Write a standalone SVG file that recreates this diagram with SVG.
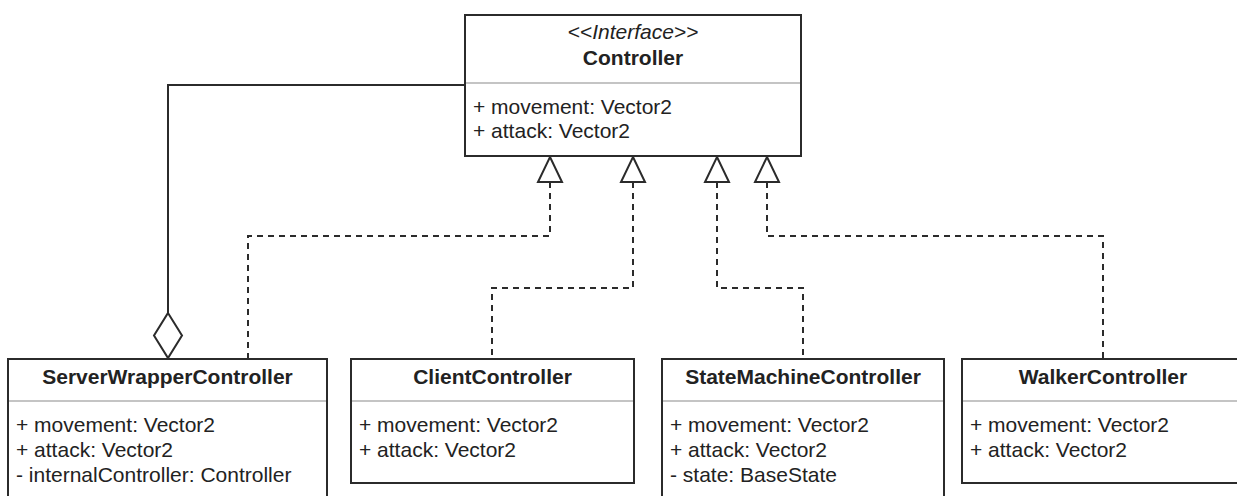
<svg xmlns="http://www.w3.org/2000/svg" width="1237" height="496" viewBox="0 0 1237 496">
<style>
.box{fill:#fff;stroke:#2b2b2b;stroke-width:2}
.div{stroke:#b0b0b0;stroke-width:1.5}
.t{font-family:"Liberation Sans",Arial,sans-serif;font-size:21px;fill:#222}
.b{font-weight:bold;text-anchor:middle}
.i{font-style:italic;text-anchor:middle}
.solid{fill:none;stroke:#2b2b2b;stroke-width:2}
.dash{fill:none;stroke:#2b2b2b;stroke-width:2;stroke-dasharray:6 5}
.head{fill:#fff;stroke:#2b2b2b;stroke-width:2}
</style>
<rect width="1237" height="496" fill="#fff"/>
<g id="connectors">
<path class="solid" d="M465,85 H168 V313"/>
<polygon class="head" points="168,313 182,335.5 168,358 154,335.5"/>
<path class="dash" d="M550,182 V236 H248 V360"/>
<path class="dash" d="M633,182 V288 H492 V360"/>
<path class="dash" d="M717,182 V288 H803 V360"/>
<path class="dash" d="M767,182 V236 H1103 V360"/>
<polygon class="head" points="550,157 562,182 538,182"/>
<polygon class="head" points="633,157 645,182 621,182"/>
<polygon class="head" points="717,157 729,182 705,182"/>
<polygon class="head" points="767,157 779,182 755,182"/>
</g>
<g id="controller">
<rect class="box" x="465" y="15" width="336" height="141"/>
<line class="div" x1="466" y1="83" x2="800" y2="83"/>
<text class="t i" x="633" y="39">&lt;&lt;Interface&gt;&gt;</text>
<text class="t b" x="633" y="65">Controller</text>
<text class="t" x="473" y="114">+ movement: Vector2</text>
<text class="t" x="473" y="138">+ attack: Vector2</text>
</g>
<g id="serverWrapperController">
<rect class="box" x="8" y="359" width="319" height="150"/>
<line class="div" x1="9" y1="401" x2="326" y2="401"/>
<text class="t b" x="167.5" y="384">ServerWrapperController</text>
<text class="t" x="16" y="432">+ movement: Vector2</text>
<text class="t" x="16" y="457">+ attack: Vector2</text>
<text class="t" x="16" y="482">- internalController: Controller</text>
</g>
<g id="clientController">
<rect class="box" x="351" y="359" width="283" height="124"/>
<line class="div" x1="352" y1="401" x2="633" y2="401"/>
<text class="t b" x="492.5" y="384">ClientController</text>
<text class="t" x="359" y="432">+ movement: Vector2</text>
<text class="t" x="359" y="457">+ attack: Vector2</text>
</g>
<g id="stateMachineController">
<rect class="box" x="662" y="359" width="282" height="150"/>
<line class="div" x1="663" y1="401" x2="943" y2="401"/>
<text class="t b" x="803" y="384">StateMachineController</text>
<text class="t" x="670" y="432">+ movement: Vector2</text>
<text class="t" x="670" y="457">+ attack: Vector2</text>
<text class="t" x="670" y="482">- state: BaseState</text>
</g>
<g id="walkerController">
<rect class="box" x="962" y="359" width="282" height="124"/>
<line class="div" x1="963" y1="401" x2="1243" y2="401"/>
<text class="t b" x="1103" y="384">WalkerController</text>
<text class="t" x="970" y="432">+ movement: Vector2</text>
<text class="t" x="970" y="457">+ attack: Vector2</text>
</g>
</svg>
